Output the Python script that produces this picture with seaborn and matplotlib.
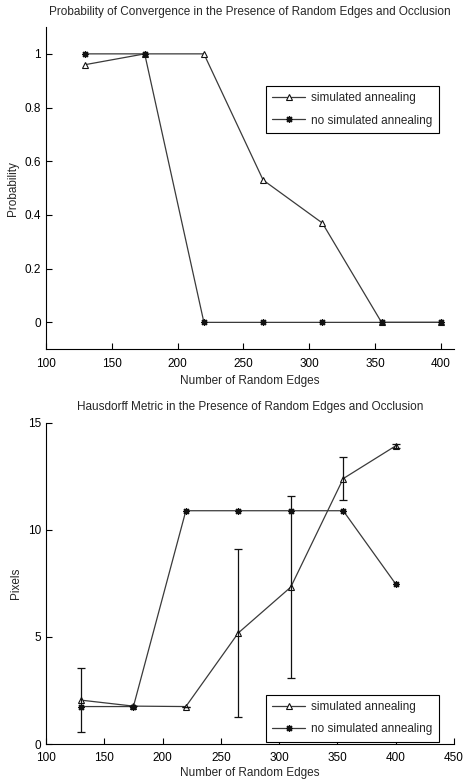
import numpy as np
import pandas as pd
import matplotlib
matplotlib.use('Agg')
import matplotlib.pyplot as plt
import seaborn as sns

# data
edges = [130, 175, 220, 265, 310, 355, 400]
prob_sa = [0.96, 1.0, 1.0, 0.53, 0.37, 0.0, 0.0]
prob_nosa = [1.0, 1.0, 0.0, 0.0, 0.0, 0.0, 0.0]
haus_sa = [2.05, 1.77, 1.75, 5.19, 7.33, 12.4, 13.93]
haus_sa_err = [1.5, 0.0, 0.0, 3.94, 4.26, 1.0, 0.1]
haus_nosa = [1.75, 1.75, 10.9, 10.9, 10.9, 10.9, 7.48]
labels = ['simulated annealing', 'no simulated annealing']

sns.set_style('ticks')
plt.rcParams['font.family'] = ['Liberation Sans', 'DejaVu Sans']
plt.rcParams['font.size'] = 8.5

fig = plt.figure(figsize=(4.67, 7.83), dpi=100)
ax1 = fig.add_axes([0.0985, 0.554, 0.8735, 0.4115])
ax2 = fig.add_axes([0.0985, 0.0498, 0.8735, 0.410])

col = '#3a3a3a'
asterisk = (8, 2, 0)


def draw(ax, y_sa, y_nosa):
    sns.lineplot(x=edges, y=y_sa, ax=ax, color=col, lw=0.9, marker='^', markersize=4,
                 markerfacecolor='white', markeredgecolor='#111111', markeredgewidth=0.8, label=labels[0])
    sns.lineplot(x=edges, y=y_nosa, ax=ax, color=col, lw=0.9, marker=asterisk, markersize=5,
                 markerfacecolor='#111111', markeredgecolor='#111111', markeredgewidth=0.9, label=labels[1])


# GRAPH 1: probability
draw(ax1, prob_sa, prob_nosa)
ax1.set_xlim(100, 410)
ax1.set_ylim(-0.1, 1.1)
ax1.set_xticks([100, 150, 200, 250, 300, 350, 400])
ax1.set_yticks([0, 0.2, 0.4, 0.6, 0.8, 1])
ax1.set_yticklabels(['0', '0.2', '0.4', '0.6', '0.8', '1'])
ax1.set_title('Probability of Convergence in the Presence of Random Edges and Occlusion', fontsize=8.5, pad=9)
ax1.set_xlabel('Number of Random Edges', labelpad=4)
ax1.set_ylabel('Probability')

# GRAPH 2: Hausdorff metric
draw(ax2, haus_sa, haus_nosa)
ax2.errorbar(edges, haus_sa, yerr=haus_sa_err, fmt='none', ecolor='#111111', elinewidth=0.9, capsize=3, capthick=0.9)
ax2.set_xlim(100, 450)
ax2.set_ylim(0, 15)
ax2.set_xticks([100, 150, 200, 250, 300, 350, 400, 450])
ax2.set_yticks([0, 5, 10, 15])
ax2.set_title('Hausdorff Metric in the Presence of Random Edges and Occlusion', fontsize=8.5, pad=9)
ax2.set_xlabel('Number of Random Edges', labelpad=2)
ax2.set_ylabel('Pixels')

for ax, anchor in [(ax1, (0.539, 0.817)), (ax2, (0.539, 0.153))]:
    sns.despine(ax=ax)
    ax.tick_params(direction='in', length=4, width=0.8, labelsize=8.5, colors='black')
    ax.tick_params(axis='x', pad=6)
    for s in ['left', 'bottom']:
        ax.spines[s].set_linewidth(0.8)
        ax.spines[s].set_color('black')
    leg = ax.legend(loc='upper left', bbox_to_anchor=anchor, borderaxespad=0, fancybox=False,
                    framealpha=1, edgecolor='black', fontsize=8.5, handlelength=2.8, handletextpad=0.5,
                    labelspacing=0.85, borderpad=0.55)
    leg.get_frame().set_linewidth(0.8)

fig.savefig('out.png', dpi=100)
